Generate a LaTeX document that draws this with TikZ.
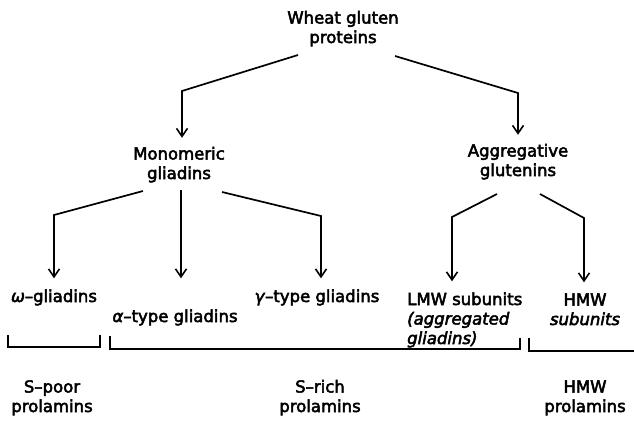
\documentclass[tikz,border=0pt]{standalone}
\usepackage{fontspec}
\setmainfont{DejaVu Sans}[FakeBold=3]
\usetikzlibrary{arrows.meta,calc}
\begin{document}
\begin{tikzpicture}[x=1pt,y=-1pt,
  lab/.style={inner sep=0pt,align=center,anchor=base,font=\fontsize{16.5}{19.5}\selectfont},
  conn/.style={line width=1.7pt,line join=miter},
  arr/.style={conn,-{Straight Barb[length=8pt,width=11pt,line width=1.6pt]}},
  brk/.style={line width=1.3pt}]
\useasboundingbox (0,0) rectangle (634,421);
% nodes (anchor = baseline of the last line)
\node[lab] (top) at (343,43) {Wheat gluten\\proteins};
\node[lab] (mono) at (179,179) {Monomeric\\gliadins};
\node[lab] (aggr) at (518,176) {Aggregative\\glutenins};
\node[lab] (omega) at (54,302) {\textit{ω}–gliadins};
\node[lab] (alpha) at (175,322) {\textit{α}–type gliadins};
\node[lab] (gamma) at (317,302) {\textit{γ}–type gliadins};
\node[lab,align=left,anchor=base west] (lmw) at (407,344) {LMW subunits\\\textit{(aggregated}\\\textit{gliadins)}};
\node[lab] (hmw) at (585,325) {HMW\\\textit{subunits}};
\node[lab] (spoor) at (52,412) {S–poor\\prolamins};
\node[lab] (srich) at (320,412) {S–rich\\prolamins};
\node[lab] (hmwp) at (585,412) {HMW\\prolamins};
% bend points
\coordinate (t1) at (298,55);
\coordinate (b1) at (182,91);
\coordinate (t2) at (395,56);
\coordinate (b2) at (518,93);
\coordinate (m1) at (143,191);
\coordinate (b3) at (54,215);
\coordinate (m2) at (181,190);
\coordinate (m3) at (222,192);
\coordinate (b5) at (321,216);
\coordinate (g1) at (497,194);
\coordinate (b6) at (452,217);
\coordinate (g2) at (540,194);
\coordinate (b7) at (584,218);
% connectors
\draw[arr,shorten >=9pt] (t1) -- (b1) -- (b1 |- mono.north);
\draw[arr,shorten >=9pt] (t2) -- (b2) -- (b2 |- aggr.north);
\draw[arr,shorten >=11pt] (m1) -- (b3) -- (b3 |- omega.north);
\draw[arr,shorten >=11pt] (m2) -- (m2 |- gamma.north);
\draw[arr,shorten >=11pt] (m3) -- (b5) -- (b5 |- gamma.north);
\draw[arr,shorten >=11pt] (g1) -- (b6) -- (b6 |- lmw.north);
\draw[arr,shorten >=11pt] (g2) -- (b7) -- (b7 |- hmw.north);
% brackets
\draw[brk] (8,335) -- (8,347) -- (100,347) -- (100,335);
\draw[brk] (110,336) -- (110,349) -- (520,349) -- (520,338);
\draw[brk] (529,338) -- (529,351) -- (634,351);
\end{tikzpicture}
\end{document}
